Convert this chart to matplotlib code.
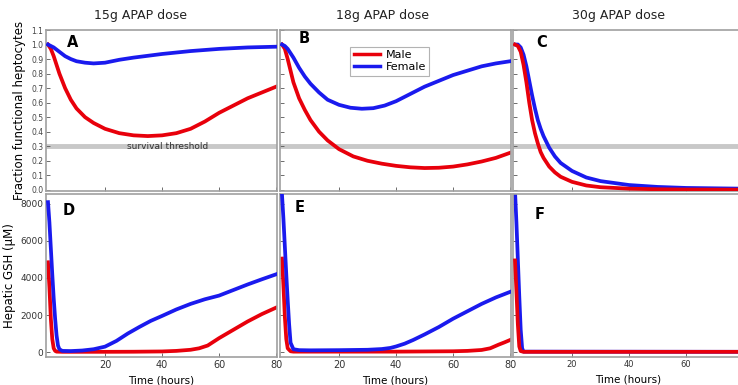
import matplotlib.pyplot as plt
import numpy as np

# ---- data ----
# top row: fraction functional hepatocytes
tA_m = [0, 1, 2, 3, 4, 6, 8, 10, 13, 16, 20, 25, 30, 35, 40, 45, 50, 55, 60, 65, 70, 75, 80]
A_male = [1.0, 0.97, 0.92, 0.86, 0.80, 0.70, 0.62, 0.56, 0.50, 0.46, 0.42, 0.39, 0.375, 0.37,
          0.375, 0.39, 0.42, 0.47, 0.53, 0.58, 0.63, 0.67, 0.71]
tA_f = [0, 2, 4, 6, 8, 10, 13, 16, 20, 25, 30, 40, 50, 60, 70, 80]
A_female = [1.0, 0.98, 0.95, 0.92, 0.90, 0.885, 0.875, 0.87, 0.875, 0.895, 0.91, 0.935, 0.955,
            0.97, 0.98, 0.985]

tB_m = [0, 1, 2, 3, 4, 6, 8, 10, 13, 16, 20, 25, 30, 35, 40, 45, 50, 55, 60, 65, 70, 75, 80]
B_male = [1.0, 0.97, 0.90, 0.82, 0.74, 0.63, 0.55, 0.48, 0.40, 0.34, 0.28, 0.23, 0.20, 0.18,
          0.165, 0.155, 0.15, 0.152, 0.16, 0.175, 0.195, 0.22, 0.255]
tB_f = [0, 1, 2, 3, 4, 6, 8, 10, 13, 16, 20, 24, 28, 32, 36, 40, 45, 50, 55, 60, 65, 70, 75, 80]
B_female = [1.0, 0.99, 0.97, 0.94, 0.91, 0.84, 0.78, 0.73, 0.67, 0.62, 0.585, 0.565, 0.558,
            0.562, 0.58, 0.61, 0.66, 0.71, 0.75, 0.79, 0.82, 0.85, 0.87, 0.885]

tC = [0, 1, 2, 3, 4, 5, 6, 7, 8, 9, 10, 12, 14, 16, 20, 25, 30, 40, 50, 60, 80]
C_male = [1.0, 0.99, 0.95, 0.86, 0.74, 0.6, 0.48, 0.39, 0.32, 0.26, 0.22, 0.16, 0.12, 0.09,
          0.055, 0.03, 0.018, 0.008, 0.004, 0.002, 0.001]
C_female = [1.0, 1.0, 0.98, 0.93, 0.85, 0.75, 0.65, 0.56, 0.48, 0.42, 0.37, 0.29, 0.23, 0.185,
            0.13, 0.085, 0.06, 0.033, 0.02, 0.013, 0.008]

# bottom row: hepatic GSH (uM)
tD_f = [0, 0.5, 1, 1.5, 2, 2.5, 3, 3.5, 4, 5, 8, 12, 16, 20, 24, 28, 32, 36, 40, 45, 50, 55,
        60, 65, 70, 75, 80]
D_female = [8100, 7000, 5600, 4200, 2900, 1800, 900, 350, 150, 60, 50, 80, 150, 290, 600, 1000,
            1350, 1680, 1950, 2300, 2600, 2850, 3050, 3350, 3650, 3930, 4200]
tD_m = [0, 0.5, 1, 1.5, 2, 2.5, 3, 5, 10, 20, 30, 40, 45, 50, 53, 56, 60, 65, 70, 75, 80]
D_male = [4850, 3500, 1800, 700, 200, 60, 20, 10, 10, 10, 15, 30, 60, 120, 200, 350, 750, 1200,
          1650, 2050, 2400]

tE_f = [0, 0.5, 1, 1.5, 2, 2.5, 3, 4, 6, 10, 20, 30, 35, 38, 40, 43, 46, 50, 55, 60, 65, 70,
        75, 80]
E_female = [8500, 7200, 5700, 4200, 2800, 1500, 500, 150, 100, 90, 100, 120, 160, 220, 300, 450,
            650, 950, 1350, 1800, 2200, 2600, 2950, 3250]
tE_m = [0, 0.5, 1, 1.5, 2, 3, 4, 10, 20, 40, 60, 65, 70, 73, 76, 78, 80]
E_male = [5050, 3600, 1900, 700, 200, 40, 20, 20, 20, 20, 40, 60, 110, 200, 400, 520, 650]

tF_f = [0, 0.5, 1, 1.5, 2, 2.5, 3, 80]
F_female = [8700, 7000, 5000, 3000, 1200, 200, 20, 10]
tF_m = [0, 0.5, 1, 1.5, 2, 3, 80]
F_male = [4950, 3300, 1500, 300, 50, 10, 10]

titles = ['15g APAP dose', '18g APAP dose', '30g APAP dose']
letters = ['A', 'B', 'C', 'D', 'E', 'F']

RED = '#e8000b'
BLUE = '#1a1aee'
GRAY = '#a0a0a0'

fig = plt.figure(figsize=(7.38, 3.85), dpi=100)

W, H = 738.0, 385.0
lefts = [46, 280, 513]
width = 231
top_row = (30, 191)
bot_row = (194, 357)

# panel letter positions (axes fraction)
letter_xy = [(0.09, 0.925), (0.082, 0.945), (0.10, 0.92),
             (0.07, 0.90), (0.065, 0.92), (0.095, 0.875)]

def make_ax(left, row):
    t, b = row
    return fig.add_axes([left / W, 1 - b / H, width / W, (b - t) / H])

def style(ax):
    for s in ax.spines.values():
        s.set_color(GRAY)
        s.set_linewidth(1.2)
    ax.tick_params(direction='in', color='#555555', length=3, width=0.6, pad=2)
    ax.set_xlim(-0.7, 80.3)
    ax.set_xticks([20, 40, 60, 80])

top_data = [
    (tA_m, A_male, tA_f, A_female, False),
    (tB_m, B_male, tB_f, B_female, False),
    (tC, C_male, tC, C_female, True),
]
bot_data = [
    (tD_m, D_male, tD_f, D_female, False),
    (tE_m, E_male, tE_f, E_female, False),
    (tF_m, F_male, tF_f, F_female, True),
]

lw = 2.7
for i in range(3):
    ax = make_ax(lefts[i], top_row)
    style(ax)
    tm, ym, tf, yf, red_top = top_data[i]
    ax.axhline(0.3, color='#c8c8c8', lw=3.5, zorder=1)
    ax.plot(tm, ym, color=RED, lw=lw, label='Male', zorder=3 if red_top else 2)
    ax.plot(tf, yf, color=BLUE, lw=lw, label='Female', zorder=2 if red_top else 3)
    ax.set_ylim(-0.008, 1.1)
    ax.set_yticks(np.arange(0, 1.11, 0.1))
    ax.set_xticklabels([])
    if i == 0:
        ax.set_yticklabels(['%.1f' % v for v in np.arange(0, 1.11, 0.1)], fontsize=5.5,
                           color='#444444')
        ax.set_ylabel('Fraction functional heptocytes', fontsize=8.5, labelpad=4)
        ax.text(42, 0.3, 'survival threshold', fontsize=6.5, ha='center', va='center',
                color='#333333', zorder=4)
    else:
        ax.set_yticklabels([])
    if i == 1:
        leg = ax.legend(loc='upper left', bbox_to_anchor=(0.28, 0.93), fontsize=8,
                        fancybox=False, edgecolor=GRAY, handlelength=2.4,
                        borderpad=0.3, labelspacing=0.2, handletextpad=0.5)
        leg.get_frame().set_linewidth(0.8)
        for line in leg.get_lines():
            line.set_linewidth(2.5)
    lx, ly = letter_xy[i]
    ax.text(lx, ly, letters[i], transform=ax.transAxes, fontsize=10.5,
            fontweight='bold', va='center', ha='left')

title_x = [140, 383, 618]
for i in range(3):
    fig.text(title_x[i] / W, 1 - 16 / H, titles[i], fontsize=9, ha='center', va='center',
             color='#222222')

for i in range(3):
    ax = make_ax(lefts[i], bot_row)
    style(ax)
    tm, ym, tf, yf, red_top = bot_data[i]
    ax.plot(tm, ym, color=RED, lw=lw, zorder=3 if red_top else 2)
    ax.plot(tf, yf, color=BLUE, lw=lw, zorder=2 if red_top else 3)
    ax.set_ylim(-270, 8540)
    ax.set_yticks([0, 2000, 4000, 6000, 8000])
    if i == 2:
        ax.set_xticklabels(['20', '40', '60', ''], fontsize=6, color='#333333')
    else:
        ax.set_xticklabels(['20', '40', '60', '80'], fontsize=7, color='#333333')
    ax.set_xlabel('Time (hours)', fontsize=7.5, labelpad=4)
    if i == 0:
        ax.set_yticklabels(['0', '2000', '4000', '6000', '8000'], fontsize=6.5,
                           color='#333333')
        ax.set_ylabel('Hepatic GSH (\u03bcM)', fontsize=8.5, labelpad=3)
    else:
        ax.set_yticklabels([])
    lx, ly = letter_xy[i + 3]
    ax.text(lx, ly, letters[i + 3], transform=ax.transAxes, fontsize=10.5,
            fontweight='bold', va='center', ha='left')

fig.savefig('out.png', dpi=100)
